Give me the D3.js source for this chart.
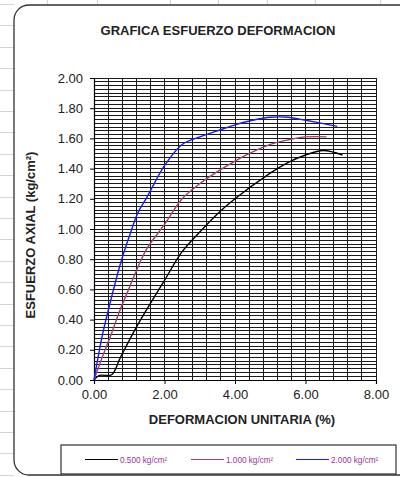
<!DOCTYPE html>
<html><head><meta charset="utf-8">
<script src="https://cdn.jsdelivr.net/npm/d3@7"></script>
<style>
html,body{margin:0;padding:0;background:#fff;}
svg{display:block;font-family:"Liberation Sans",Arial,sans-serif;}
</style></head>
<body>
<svg id="c" width="400" height="477"></svg>
<script>
// ---- data ----
const seriesNames = ["0.500 kg/cm²", "1.000 kg/cm²", "2.000 kg/cm²"];
const seriesColors = ["#000000", "#a3406f", "#1a1aff"];
const strain05 = [0, 0.15, 0.5, 0.75, 1.25, 2.0, 2.5, 3.0, 3.5, 4.0, 5.0, 5.5, 6.0, 6.5, 7.05];
const stress05 = [0, 0.03, 0.035, 0.15, 0.37, 0.66, 0.85, 0.98, 1.10, 1.20, 1.37, 1.44, 1.49, 1.52, 1.49];
const strain10 = [0, 0.25, 0.5, 0.75, 1.0, 1.25, 1.5, 2.0, 2.5, 3.0, 3.5, 4.0, 4.5, 5.0, 5.5, 6.0, 6.6];
const stress10 = [0, 0.16, 0.31, 0.47, 0.61, 0.75, 0.87, 1.03, 1.20, 1.30, 1.38, 1.45, 1.51, 1.56, 1.59, 1.61, 1.61];
const strain20 = [0, 0.25, 0.5, 0.75, 1.0, 1.25, 1.5, 2.0, 2.5, 3.0, 3.5, 4.0, 4.5, 5.0, 5.5, 6.0, 6.9];
const stress20 = [0, 0.31, 0.55, 0.77, 0.95, 1.11, 1.21, 1.42, 1.56, 1.61, 1.65, 1.69, 1.72, 1.74, 1.74, 1.72, 1.68];
const xTicks = [0, 2, 4, 6, 8];
const yTicks = [0, 0.2, 0.4, 0.6, 0.8, 1.0, 1.2, 1.4, 1.6, 1.8, 2.0];
const titleText = "GRAFICA ESFUERZO DEFORMACION";
const xTitle = "DEFORMACION UNITARIA (%)";
const yTitle = "ESFUERZO AXIAL (kg/cm²)";

const series = [
  {name: seriesNames[0], color: seriesColors[0], x: strain05, y: stress05},
  {name: seriesNames[1], color: seriesColors[1], x: strain10, y: stress10},
  {name: seriesNames[2], color: seriesColors[2], x: strain20, y: stress20}
];

const svg = d3.select("#c");

// spreadsheet background lines
const bg = svg.append("g").attr("stroke", "#d4d4d4").attr("stroke-width", 1);
d3.range(4, 477, 21.4).forEach(y => {
  bg.append("line").attr("x1", 0).attr("x2", 14).attr("y1", Math.round(y) + 0.5).attr("y2", Math.round(y) + 0.5);
});
[47, 97, 170, 218, 267, 315, 380].forEach(x => {
  bg.append("line").attr("x1", x + 0.5).attr("x2", x + 0.5).attr("y1", 0).attr("y2", 6);
});

// chart frame
svg.append("rect").attr("x", 14).attr("y", 5).attr("width", 410).attr("height", 470)
  .attr("rx", 15).attr("ry", 15).attr("fill", "#fff").attr("stroke", "#333").attr("stroke-width", 1.3);

const x = d3.scaleLinear().domain([0, 8]).range([94, 376]);
const y = d3.scaleLinear().domain([0, 2]).range([380, 78]);

// plot background
svg.append("rect").attr("x", x(0)).attr("y", y(2)).attr("width", x(8) - x(0)).attr("height", y(0) - y(2)).attr("fill", "#fff");

// gridlines
const grid = svg.append("g").attr("shape-rendering", "crispEdges").attr("stroke", "#1a1a1a").attr("stroke-width", 1);
d3.range(1, 81).forEach(i => {
  const v = i * 0.025;
  grid.append("line").attr("x1", x(0)).attr("x2", x(8)).attr("y1", y(v)).attr("y2", y(v));
});
d3.range(1, 21).forEach(i => {
  const v = i * 0.4;
  grid.append("line").attr("x1", x(v)).attr("x2", x(v)).attr("y1", y(0)).attr("y2", y(2));
});

// axes
const yAxis = svg.append("g").attr("transform", `translate(${x(0)},0)`)
  .call(d3.axisLeft(y).tickValues(yTicks).tickFormat(d3.format(".2f")).tickSize(4).tickPadding(7));
const xAxis = svg.append("g").attr("transform", `translate(0,${y(0)})`)
  .call(d3.axisBottom(x).tickValues(xTicks).tickFormat(d3.format(".2f")).tickSize(4).tickPadding(6));
[yAxis, xAxis].forEach(a => {
  a.selectAll("path.domain").attr("stroke", "#000").attr("stroke-width", 1.2);
  a.selectAll(".tick line").attr("stroke", "#000");
  a.selectAll("text").attr("font-size", 13).attr("fill", "#222").attr("font-family", "Liberation Sans, Arial, sans-serif");
});

// lines
const line = d3.line().curve(d3.curveCatmullRom.alpha(0.5));
series.forEach(s => {
  const pts = s.x.map((v, i) => [x(v), y(s.y[i])]);
  svg.append("path").attr("d", line(pts)).attr("fill", "none")
    .attr("stroke", s.color).attr("stroke-width", 1.4);
});

// titles
svg.append("text").attr("x", 218).attr("y", 35).attr("text-anchor", "middle")
  .attr("font-size", 13).attr("font-weight", "bold").attr("fill", "#222").text(titleText);
svg.append("text").attr("x", 242).attr("y", 424).attr("text-anchor", "middle")
  .attr("font-size", 13).attr("font-weight", "bold").attr("fill", "#222").text(xTitle);
svg.append("text").attr("transform", "translate(35,235) rotate(-90)").attr("text-anchor", "middle")
  .attr("font-size", 13).attr("font-weight", "bold").attr("fill", "#222").text(yTitle);

// legend
svg.append("rect").attr("x", 61).attr("y", 445).attr("width", 335).attr("height", 29)
  .attr("fill", "#fff").attr("stroke", "#333").attr("stroke-width", 1.2);
const legX = [85, 191, 296];
series.forEach((s, i) => {
  svg.append("line").attr("x1", legX[i]).attr("x2", legX[i] + 33).attr("y1", 459.5).attr("y2", 459.5)
    .attr("stroke", s.color).attr("stroke-width", 1.2);
  svg.append("text").attr("x", legX[i] + 35).attr("y", 462.5).attr("font-size", 8.2)
    .attr("fill", "#993399").text(s.name);
});
</script>
</body></html>
